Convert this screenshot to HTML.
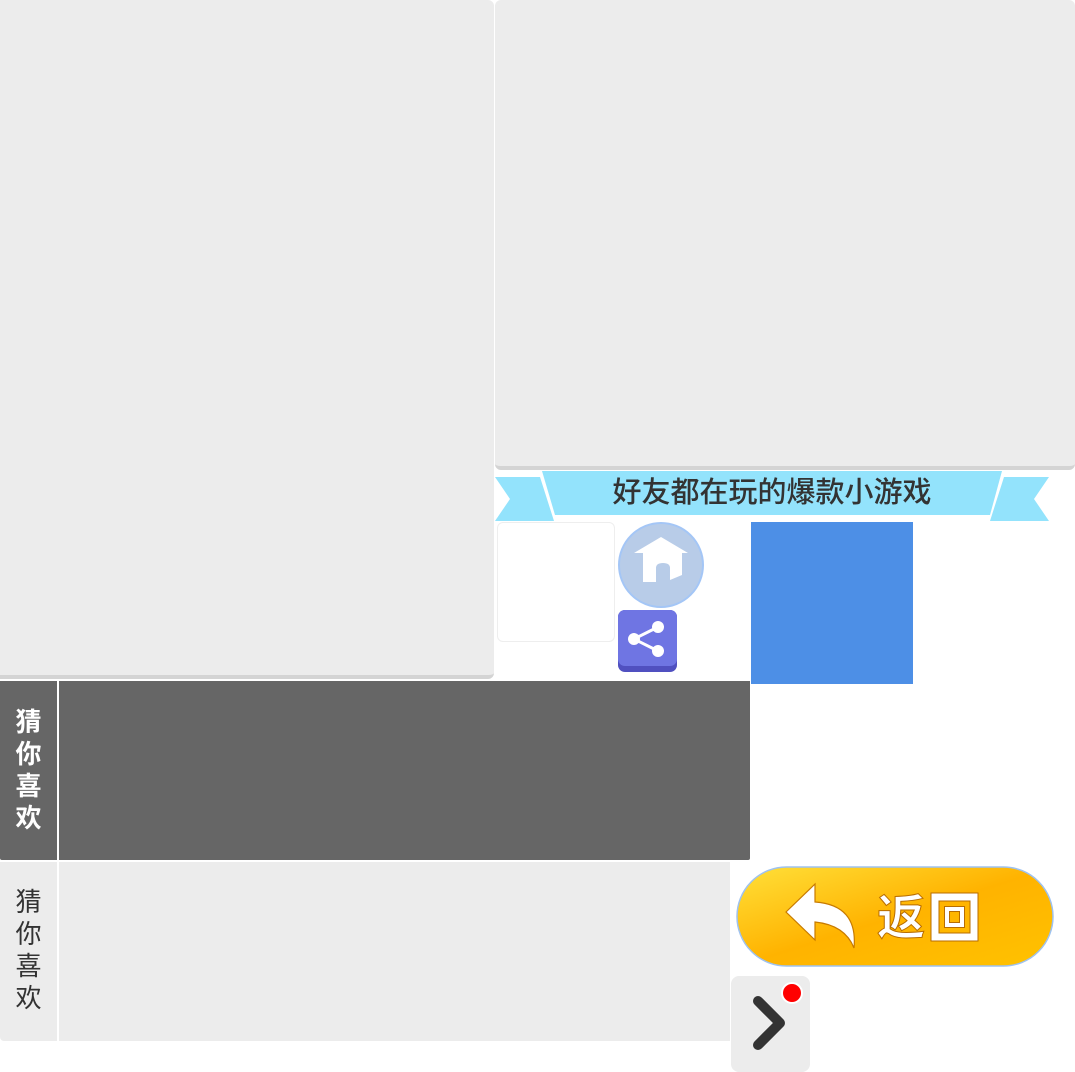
<!DOCTYPE html>
<html><head><meta charset="utf-8"><style>
body{margin:0;width:1075px;height:1072px;background:#fff;position:relative;overflow:hidden;font-family:"Liberation Sans","Noto Sans CJK SC",sans-serif}
div{position:absolute;box-sizing:border-box}
.lbl{color:#fff;font-size:26px;font-weight:bold;line-height:32px;text-align:center;width:57px}
</style></head><body>
<div style="left:0;top:0;width:494px;height:679px;background:#ececec;border-radius:0 6px 6px 0;border-bottom:4px solid #d4d4d4"></div>
<div style="left:495px;top:0;width:580px;height:470px;background:#ececec;border-radius:6px;border-bottom:4px solid #d4d4d4"></div>
<svg style="position:absolute;left:0;top:0" width="1075" height="1072">
<polygon points="495,477 540,477 554,521 495,521 510,499" fill="#93e3fc"/>
<polygon points="1049,477 1004,477 990,521 1049,521 1034,499" fill="#93e3fc"/>
<polygon points="542,471 1002,471 990,515 555,515" fill="#93e3fc"/>
<circle cx="661" cy="565" r="42" fill="#b8cce8" stroke="#a4c6f6" stroke-width="2"/>
<path d="M634,553 L661,537 L688,553 L682,553 L682,575 L670,580 L670,568 Q670,563 663,563 Q656,563 656,568 L656,582 L643,582 L643,553 Z" fill="#fff"/>
<rect x="618" y="610" width="59" height="62" rx="7" fill="#5050c0"/>
<rect x="618" y="610" width="59" height="56" rx="7" fill="#6f75e3"/>
<line x1="634" y1="639" x2="658" y2="627" stroke="#fff" stroke-width="3"/>
<line x1="634" y1="639" x2="658" y2="651" stroke="#fff" stroke-width="3"/>
<circle cx="634" cy="639" r="6" fill="#fff"/><circle cx="658" cy="627" r="6" fill="#fff"/><circle cx="658" cy="651" r="6" fill="#fff"/>
<defs><linearGradient id="g" x1="0" y1="0" x2="1" y2="1"><stop offset="0" stop-color="#ffe03a"/><stop offset="0.5" stop-color="#ffb300"/><stop offset="1" stop-color="#ffc200"/></linearGradient></defs>
<rect x="737" y="867" width="316" height="99" rx="49.5" fill="url(#g)" stroke="#9ec2f0" stroke-width="1.5"/>
<path d="M786,912 L815,884 L815,902 Q858,905 854,948 Q845,925 815,922 L815,940 Z" fill="#fff" stroke="#c77a00" stroke-width="1.2"/>
<text x="877" y="934" font-size="48" font-weight="bold" fill="#fff" stroke="#b86d00" stroke-width="1" font-family="Liberation Sans,Noto Sans CJK SC,sans-serif">返</text>
<rect x="935" y="897" width="39" height="40" fill="none" stroke="#b86d00" stroke-width="9"/>
<rect x="935" y="897" width="39" height="40" fill="none" stroke="#fff" stroke-width="7"/>
<rect x="947" y="909" width="15" height="16" fill="none" stroke="#b86d00" stroke-width="6"/>
<rect x="947" y="909" width="15" height="16" fill="none" stroke="#fff" stroke-width="4"/>
</svg>
<div style="left:542px;top:471px;width:460px;height:44px;text-align:center;font-size:29px;line-height:44px;color:#333;font-weight:500">好友都在玩的爆款小游戏</div>
<div style="left:497px;top:522px;width:118px;height:120px;border:1px solid #eee;border-radius:6px;background:#fff"></div>
<div style="left:751px;top:522px;width:162px;height:162px;background:#4d8fe6"></div>
<div style="left:0;top:681px;width:750px;height:179px;background:#666;border-radius:0 0 2px 2px"></div>
<div style="left:57px;top:681px;width:2px;height:179px;background:#fff"></div>
<div class="lbl" style="left:0;top:706px">猜<br>你<br>喜<br>欢</div>
<div style="left:0;top:862px;width:730px;height:179px;background:#ececec;border-radius:0 0 0 4px"></div>
<div style="left:57px;top:862px;width:2px;height:179px;background:#fff"></div>
<div class="lbl" style="left:0;top:886px;color:#333;font-weight:normal">猜<br>你<br>喜<br>欢</div>
<div style="left:731px;top:976px;width:79px;height:96px;background:#ececec;border-radius:8px"></div>
<svg style="position:absolute;left:731px;top:976px" width="79" height="96"><polyline points="27,25 49,47 27,69" fill="none" stroke="#333" stroke-width="10" stroke-linecap="round" stroke-linejoin="round"/><circle cx="61" cy="17" r="10" fill="red" stroke="#fff" stroke-width="2"/></svg>
</body></html>
